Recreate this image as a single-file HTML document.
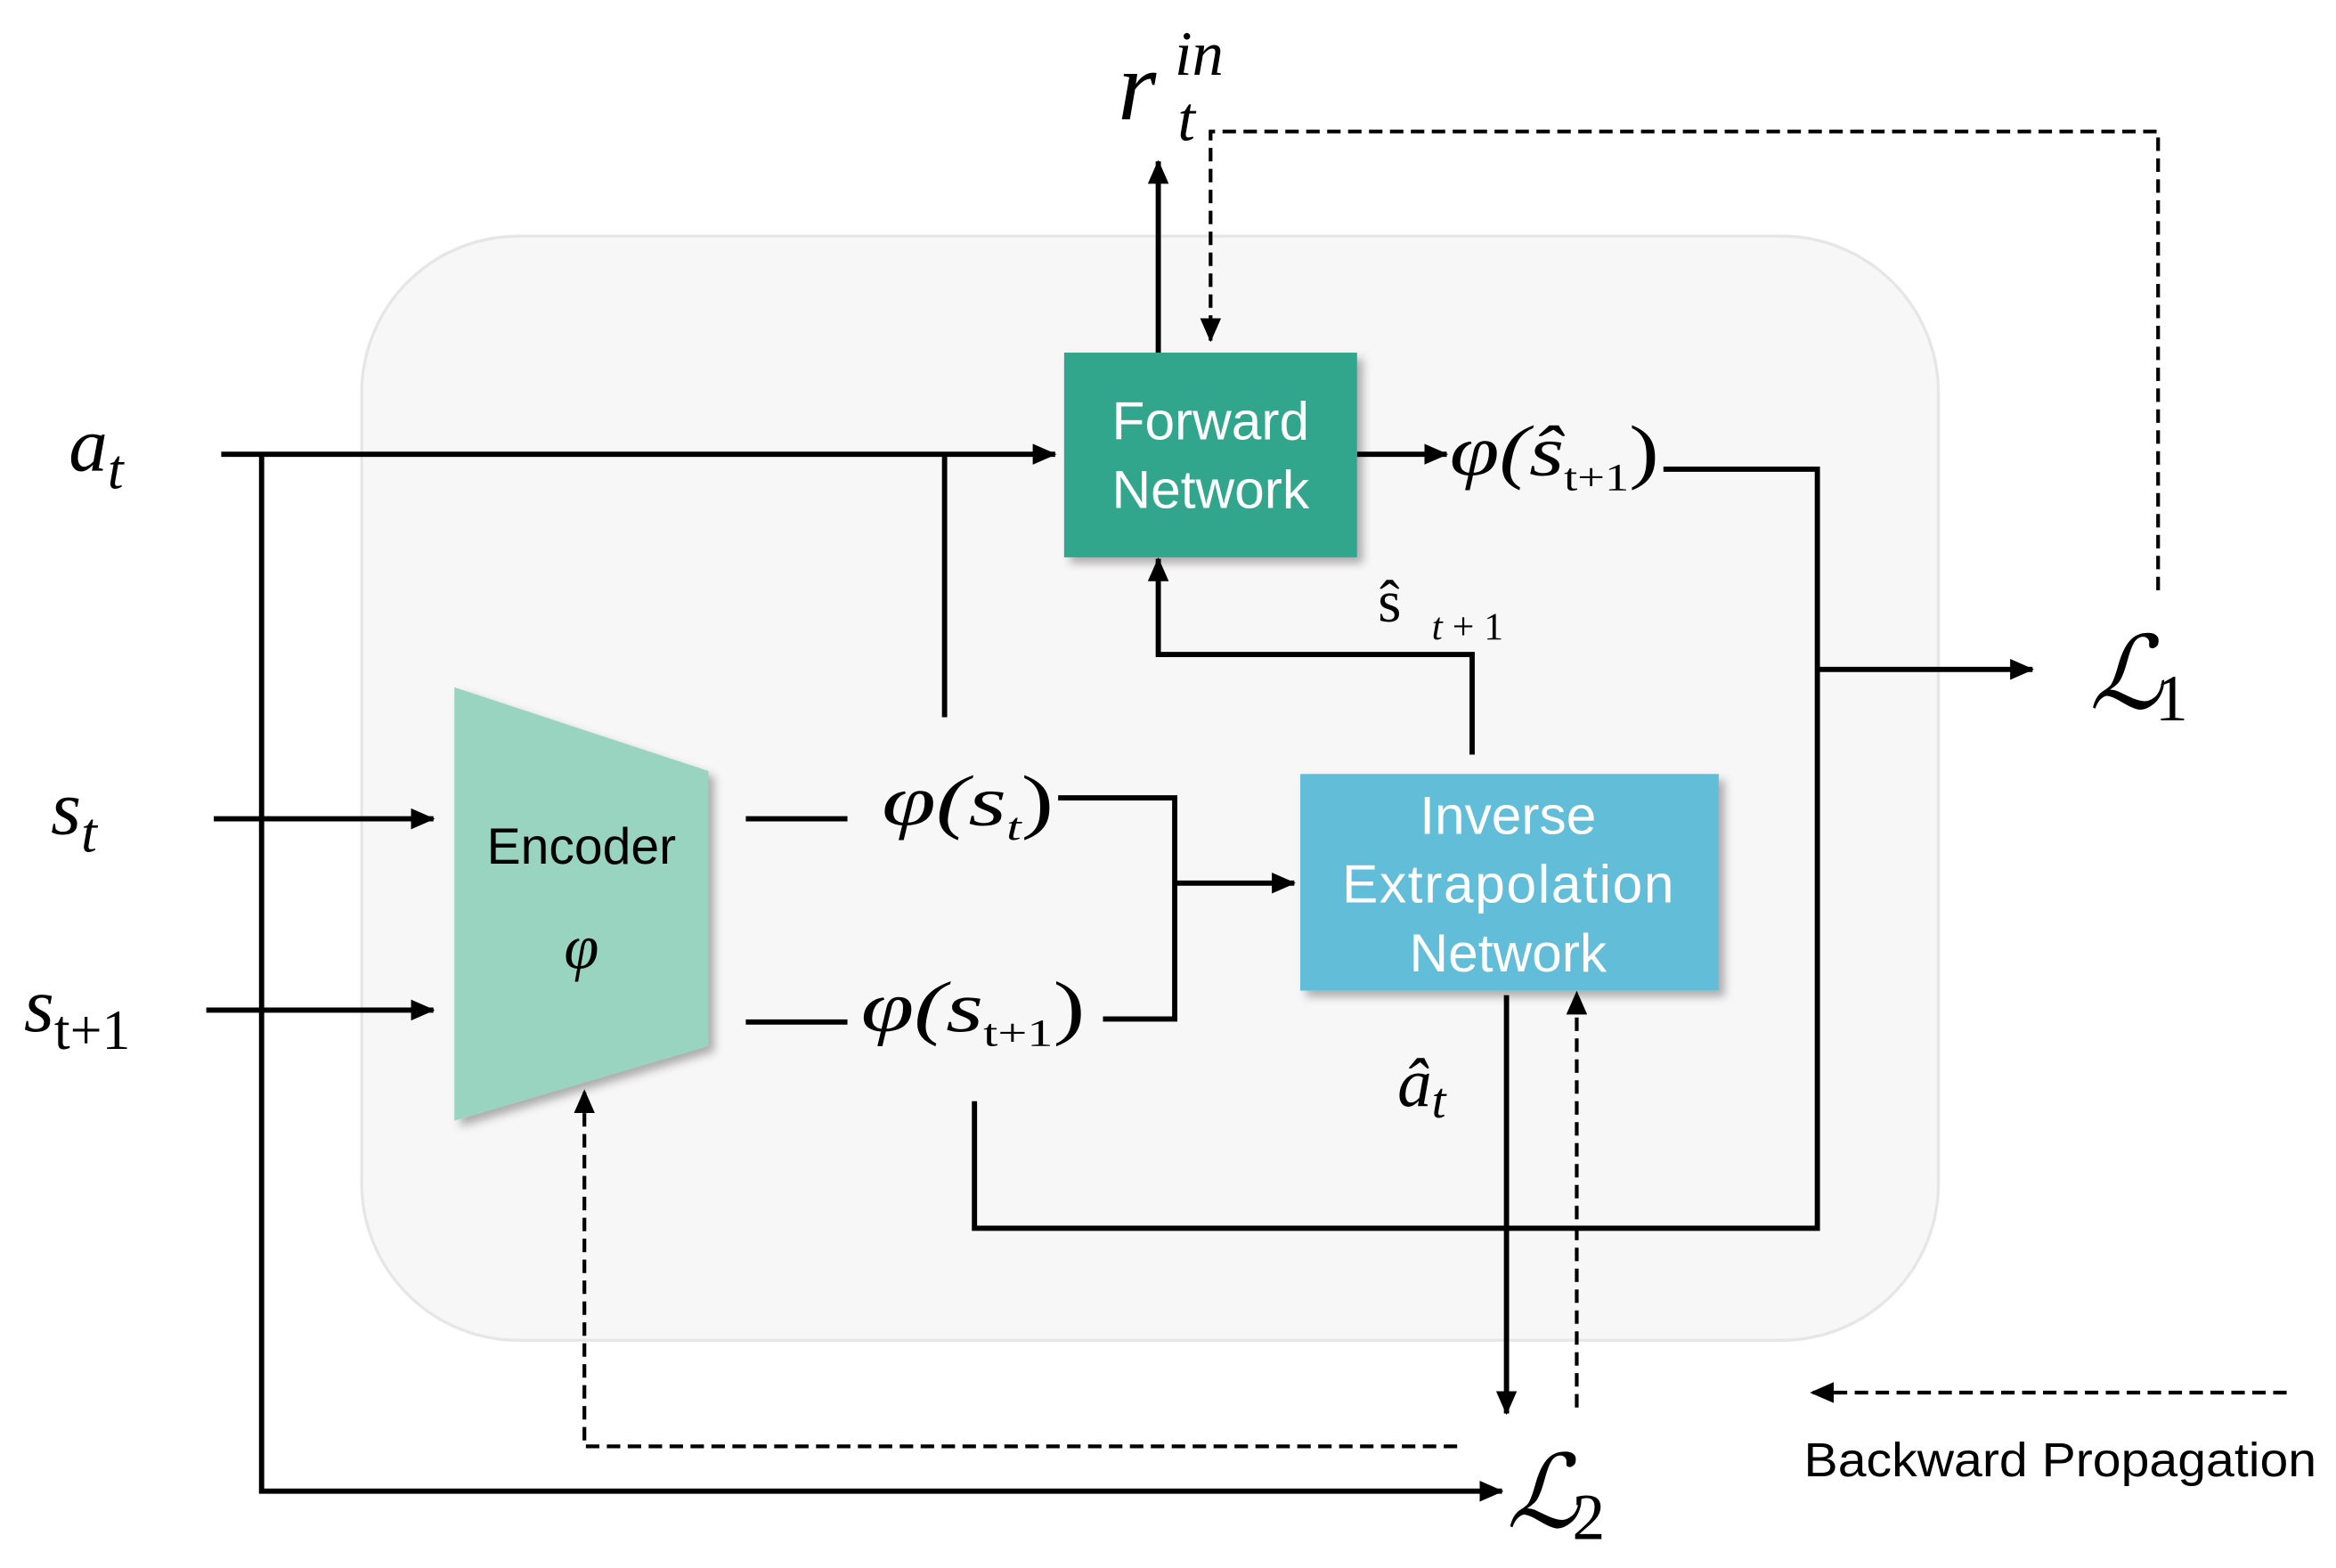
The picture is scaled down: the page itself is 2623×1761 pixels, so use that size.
<!DOCTYPE html>
<html><head><meta charset="utf-8"><style>
html,body{margin:0;padding:0;background:#fff;}
svg{display:block}
.m{font-family:"Liberation Serif",serif;font-style:italic;fill:#000}
.s{font-family:"Liberation Sans",sans-serif;fill:#fff}
</style></head><body>
<svg width="2623" height="1761" viewBox="0 0 1563 1049.4" xmlns="http://www.w3.org/2000/svg">
<defs>
<marker id="b" markerWidth="16" markerHeight="14" refX="15" refY="7" orient="auto" markerUnits="userSpaceOnUse"><path d="M0,0 L16,7 L0,14 z" fill="#000"/></marker>
<filter id="sh" x="-10%" y="-10%" width="130%" height="130%"><feDropShadow dx="4" dy="4" stdDeviation="3" flood-color="#000" flood-opacity="0.3"/></filter>
</defs>
<rect width="1563" height="1050" fill="#fff"/>
<rect x="242" y="158" width="1055" height="739" rx="105" fill="#f7f7f7" stroke="#e6e6e6" stroke-width="2"/>
<g stroke="#000" stroke-width="3.5" fill="none">
<path d="M148,304 H706" marker-end="url(#b)"/>
<path d="M175,304 V998 H1005" marker-end="url(#b)"/>
<path d="M632,304 V480"/>
<path d="M143,548 H290" marker-end="url(#b)"/>
<path d="M138,676 H290" marker-end="url(#b)"/>
<path d="M499,548 H567"/>
<path d="M499,684 H567"/>
<path d="M708,534 H786 V682 H738"/>
<path d="M786,591 H866" marker-end="url(#b)"/>
<path d="M908,304 H968" marker-end="url(#b)"/>
<path d="M1113,314 H1216 V822 H652 V737"/>
<path d="M1216,448 H1360" marker-end="url(#b)"/>
<path d="M985,505 V438 H775 V374" marker-end="url(#b)"/>
<path d="M775,236 V108" marker-end="url(#b)"/>
<path d="M1008,666 V946" marker-end="url(#b)"/>
</g>
<g stroke="#000" stroke-width="2.5" fill="none" stroke-dasharray="9,5">
<path d="M1444,395 V88 H810 V228" marker-end="url(#b)"/>
<path d="M1055,942 V664" marker-end="url(#b)"/>
<path d="M975,968 H391 V730" marker-end="url(#b)"/>
<path d="M1530,932 H1212" marker-end="url(#b)"/>
</g>
<rect x="712" y="236" width="196" height="137" fill="#31a68c" filter="url(#sh)"/>
<text class="s" x="810" y="294" font-size="36" text-anchor="middle">Forward</text>
<text class="s" x="810" y="340" font-size="36" text-anchor="middle">Network</text>
<rect x="870" y="518" width="280" height="145" fill="#62bed8" filter="url(#sh)"/>
<text class="s" x="1009" y="558" font-size="36" text-anchor="middle">Inverse</text>
<text class="s" x="1009" y="604" font-size="36" text-anchor="middle" textLength="222">Extrapolation</text>
<text class="s" x="1009" y="650" font-size="36" text-anchor="middle">Network</text>
<polygon points="304,460 474,516 474,700 304,750" fill="#98d4c0" filter="url(#sh)"/>
<text x="389" y="578" font-size="34" text-anchor="middle" font-family="Liberation Sans,sans-serif" fill="#000">Encoder</text>
<text class="m" x="389" y="648" font-size="42" text-anchor="middle">φ</text>
<text class="m" x="46" y="315" font-size="52">a<tspan font-size="38" dy="12">t</tspan></text>
<text class="m" x="34" y="558" font-size="52">s<tspan font-size="38" dy="12">t</tspan></text>
<text class="m" x="16" y="690" font-size="52">s<tspan font-size="38" dy="12" font-style="normal">t+1</tspan></text>
<text class="m" x="590" y="552" font-size="48" textLength="115" lengthAdjust="spacingAndGlyphs">φ(s<tspan font-size="26" dy="10">t</tspan><tspan dy="-10" font-style="normal">)</tspan></text>
<text class="m" x="576" y="690" font-size="48" textLength="150" lengthAdjust="spacingAndGlyphs">φ(s<tspan font-size="26" dy="10" font-style="normal">t+1</tspan><tspan dy="-10" font-style="normal">)</tspan></text>
<text class="m" x="970" y="318" font-size="48" textLength="140" lengthAdjust="spacingAndGlyphs">φ(ŝ<tspan font-size="26" dy="10" font-style="normal">t+1</tspan><tspan dy="-10" font-style="normal">)</tspan></text>
<text x="922" y="416" font-size="40" font-family="Liberation Serif,serif">ŝ</text><text class="m" x="958" y="428" font-size="26">t <tspan font-style="normal">+ 1</tspan></text>
<text class="m" x="935" y="740" font-size="46">â<tspan font-size="34" dy="8">t</tspan></text>
<text class="m" x="748" y="80" font-size="66">r</text><text class="m" x="786" y="50" font-size="42">in</text><text class="m" x="788" y="94" font-size="42">t</text>
<text class="m" x="1398" y="474" font-size="68">ℒ</text><text x="1442" y="482" font-size="44" font-family="Liberation Serif,serif">1</text>
<text class="m" x="1008" y="1022" font-size="68">ℒ</text><text x="1052" y="1030" font-size="44" font-family="Liberation Serif,serif">2</text>
<text x="1207" y="988" font-size="32" font-family="Liberation Sans,sans-serif" fill="#000" textLength="343" lengthAdjust="spacingAndGlyphs">Backward Propagation</text>
</svg>
</body></html>
